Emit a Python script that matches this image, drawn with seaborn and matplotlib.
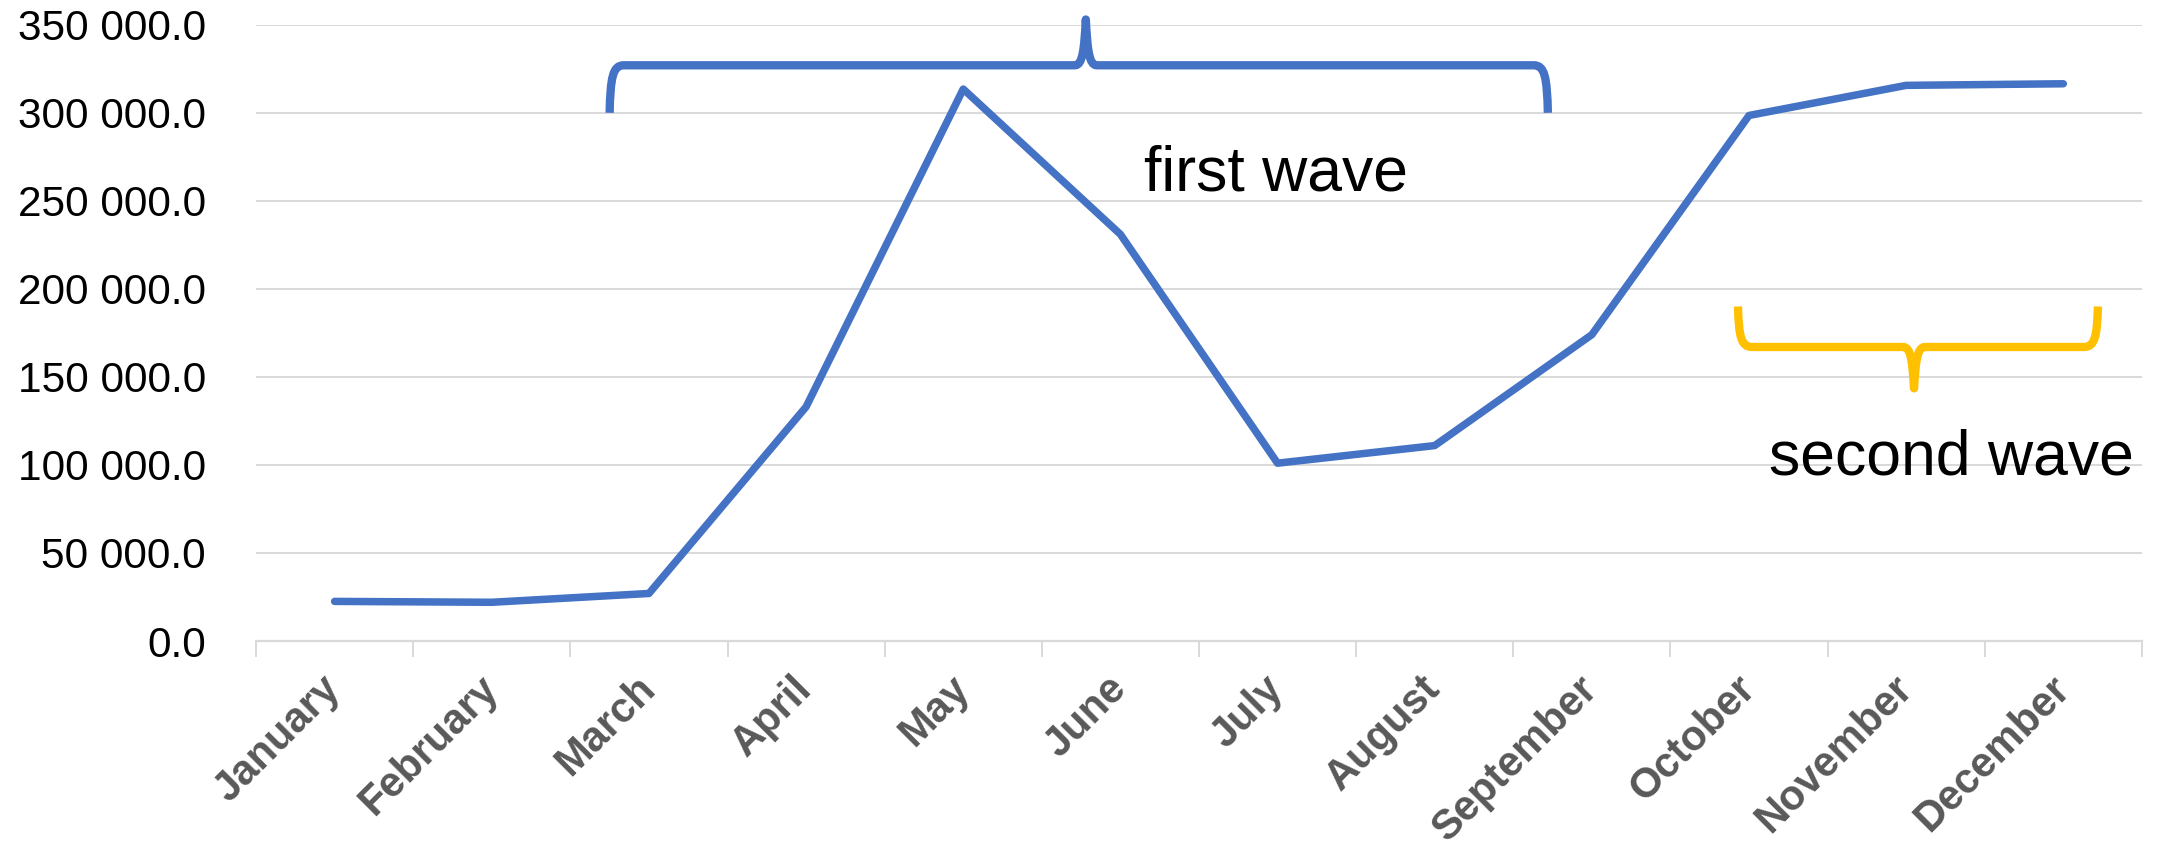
import numpy as np
import pandas as pd
import seaborn as sns
import matplotlib
matplotlib.use("Agg")
import matplotlib.pyplot as plt
from matplotlib.path import Path
from matplotlib.patches import PathPatch
from matplotlib.ticker import FuncFormatter, MultipleLocator, FixedLocator

# monthly values
months = ["January", "February", "March", "April", "May", "June",
          "July", "August", "September", "October", "November", "December"]
cases = [22500, 22000, 27000, 133000, 313500, 231000,
         101000, 111000, 174000, 298500, 315600, 316500]

# brace annotations: (x start, x end, x tip, y ends, y bar, y tip) in data units
first_brace = (1.75, 7.72, 4.78, 300000, 327000, 353000)
second_brace = (8.93, 11.22, 10.05, 190000, 167000, 143500)

blue = "#4472C4"
gold = "#FFC000"
grid_grey = "#D9D9D9"

sns.set_theme(style="white")
plt.rcParams["font.family"] = ["Liberation Sans", "DejaVu Sans"]

df = pd.DataFrame({"pos": np.arange(len(months)), "month": months, "cases": cases})

fig = plt.figure(figsize=(21.57, 8.46), dpi=100)
ax = fig.add_axes([0.1187, 0.2423, 0.8743, 0.7284])

sns.lineplot(data=df, x="pos", y="cases", ax=ax, color=blue, linewidth=5.4,
             sort=False, solid_capstyle="round", solid_joinstyle="round")

ax.set_xlim(-0.5, len(months) - 0.5)
ax.set_ylim(0, 350000)
ax.yaxis.set_major_locator(MultipleLocator(50000))
ax.yaxis.set_major_formatter(FuncFormatter(lambda v, p: f"{v:,.1f}".replace(",", " ")))
ax.grid(axis="y", color=grid_grey, linewidth=1.4)
ax.grid(axis="x", visible=False)
ax.set_axisbelow(True)

for s in ["top", "right", "left"]:
    ax.spines[s].set_visible(False)
ax.spines["bottom"].set_color(grid_grey)
ax.spines["bottom"].set_linewidth(1.6)

ax.set_xticks(df["pos"])
ax.set_xticklabels(months, rotation=45, ha="right", va="center",
                   rotation_mode="anchor", fontsize=30, fontweight="bold",
                   color="#595959")
ax.xaxis.set_minor_locator(FixedLocator(np.arange(-0.5, len(months), 1.0)))
ax.tick_params(axis="x", which="major", length=0, pad=30)
ax.tick_params(axis="x", which="minor", length=11.5, width=1.4, color=grid_grey,
               bottom=True, direction="out")
ax.tick_params(axis="y", length=0, labelsize=30.5, labelcolor="black", pad=36)
ax.set_xlabel("")
ax.set_ylabel("")


def brace(ax, spec, color, lw):
    x0, x1, xm, y_end, y_bar, y_tip = spec
    dx = 0.09
    tdx = 0.07
    dy = y_bar - y_end
    th = y_tip - y_bar
    verts = [
        (x0, y_end),
        (x0 + 0.005, y_end + 0.75 * dy), (x0 + 0.02, y_bar), (x0 + dx, y_bar),
        (xm - tdx, y_bar),
        (xm - 0.02, y_bar), (xm - 0.01, y_bar + 0.35 * th), (xm, y_tip),
        (xm + 0.01, y_bar + 0.35 * th), (xm + 0.02, y_bar), (xm + tdx, y_bar),
        (x1 - dx, y_bar),
        (x1 - 0.02, y_bar), (x1 - 0.005, y_end + 0.75 * dy), (x1, y_end),
    ]
    codes = [Path.MOVETO,
             Path.CURVE4, Path.CURVE4, Path.CURVE4,
             Path.LINETO,
             Path.CURVE4, Path.CURVE4, Path.CURVE4,
             Path.CURVE4, Path.CURVE4, Path.CURVE4,
             Path.LINETO,
             Path.CURVE4, Path.CURVE4, Path.CURVE4]
    patch = PathPatch(Path(verts, codes), fill=False, edgecolor=color, linewidth=lw,
                      transform=ax.transData, clip_on=False, capstyle="butt",
                      joinstyle="round")
    ax.add_patch(patch)


brace(ax, first_brace, blue, 6.0)
brace(ax, second_brace, gold, 6.0)

ax.text(5.15, 265000, "first wave", fontsize=45, color="black", va="center", ha="left")
ax.text(9.13, 104000, "second wave", fontsize=45, color="black", va="center", ha="left")

fig.savefig("out.png", dpi=100, facecolor="white")
